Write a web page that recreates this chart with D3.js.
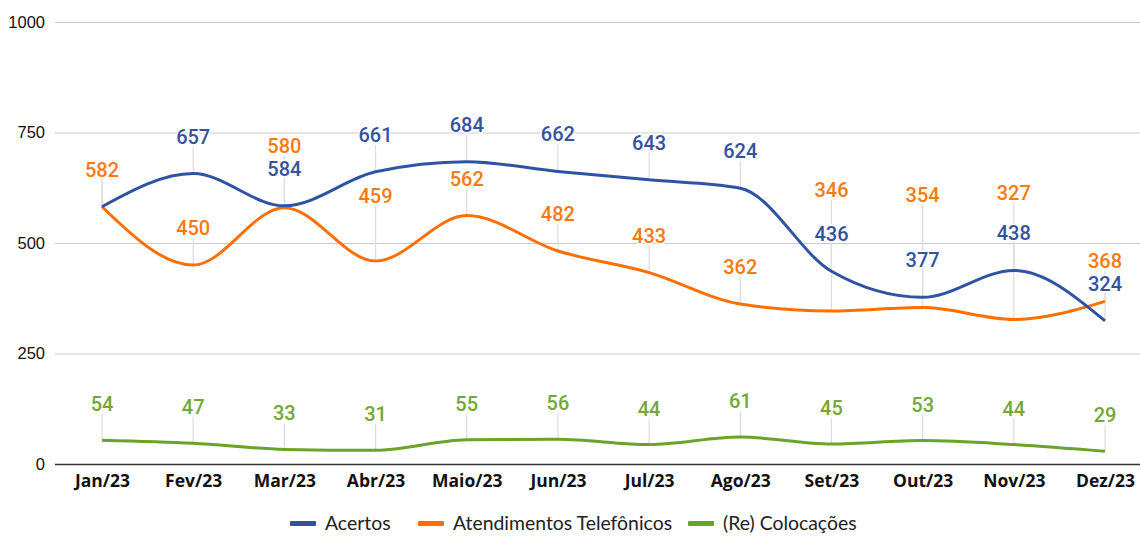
<!DOCTYPE html>
<html>
<head>
<meta charset="utf-8">
<script src="https://cdn.jsdelivr.net/npm/d3@7"></script>
<style>
  body { margin: 0; background: #fff; }
</style>
</head>
<body>
<div class="chart"></div>
<script>
const months = ['Jan/23', 'Fev/23', 'Mar/23', 'Abr/23', 'Maio/23', 'Jun/23', 'Jul/23', 'Ago/23', 'Set/23', 'Out/23', 'Nov/23', 'Dez/23'];
const acertos = [582, 657, 584, 661, 684, 662, 643, 624, 436, 377, 438, 324];
const atendimentos = [582, 450, 580, 459, 562, 482, 433, 362, 346, 354, 327, 368];
const colocacoes = [54, 47, 33, 31, 55, 56, 44, 61, 45, 53, 44, 29];
const yTicks = [0, 250, 500, 750, 1000];
const seriesNames = ['Acertos', 'Atendimentos Telefônicos', '(Re) Colocações'];

// extra lift of labels that were pushed up to avoid collisions (layout only)
const liftAtendimentos = [0, 0, 25, 28, 0, 0, 0, 0, 84, 76, 89, 3];

function lineChart() {
    const width = 1140, height = 536;
    const margin = {top: 22, right: 35, bottom: 72, left: 102};

    const svg = d3.select('.chart')
        .append('svg')
        .attr('width', width)
        .attr('height', height);

    const x = d3.scalePoint()
        .domain(months)
        .range([margin.left, width - margin.right]);

    const y = d3.scaleLinear()
        .domain([0, 1000])
        .range([height - margin.bottom, margin.top]);

    // grid + y labels
    const grid = svg.append('g')
        .attr('transform', 'translate(55, 0)')
        .call(d3.axisLeft(y).tickValues(yTicks).tickFormat(d3.format('d'))
            .tickSize(-(width - 55)).tickPadding(10));
    grid.select('.domain').remove();
    grid.selectAll('.tick line')
        .attr('stroke', d => d === 0 ? '#333' : '#c9c9c9')
        .attr('stroke-width', d => d === 0 ? 1.5 : 1.2);
    grid.selectAll('.tick text')
        .attr('fill', '#111')
        .style('font', '16.5px "Liberation Sans", Arial, sans-serif');

    // x labels
    const xAxis = svg.append('g')
        .attr('transform', `translate(0, ${height - margin.bottom})`)
        .call(d3.axisBottom(x).tickSize(0).tickPadding(11));
    xAxis.select('.domain').remove();
    xAxis.selectAll('.tick text')
        .attr('fill', '#111')
        .style('font', '700 17.5px "Open Sans", sans-serif');

    const series = [
        {name: seriesNames[0], values: acertos, color: '#2f53a3', labelColor: '#34539f', dy: 37, lift: null},
        {name: seriesNames[1], values: atendimentos, color: '#ff6f00', labelColor: '#fb7a10', dy: 37, lift: liftAtendimentos},
        {name: seriesNames[2], values: colocacoes, color: '#6ba32a', labelColor: '#72a83a', dy: 36, lift: null}
    ];

    const line = d3.line()
        .x((d, i) => x(months[i]))
        .y(d => y(d))
        .curve(d3.curveMonotoneX);

    // leader lines first so they sit beneath curves
    const leaders = svg.append('g');
    series.forEach(s => {
        leaders.selectAll(null)
            .data(s.values)
            .join('line')
            .attr('x1', (d, i) => x(months[i]))
            .attr('x2', (d, i) => x(months[i]))
            .attr('y1', d => y(d))
            .attr('y2', (d, i) => y(d) - s.dy - (s.lift ? s.lift[i] : 0) + 10)
            .attr('stroke', '#dcdcdc')
            .attr('stroke-width', 1.2);
    });

    series.slice().reverse().forEach(s => {
        svg.append('path')
            .datum(s.values)
            .attr('fill', 'none')
            .attr('stroke', s.color)
            .attr('stroke-width', 3)
            .attr('d', line);
    });

    // data labels
    series.forEach(s => {
        svg.append('g')
            .selectAll('text')
            .data(s.values)
            .join('text')
            .attr('x', (d, i) => x(months[i]))
            .attr('y', (d, i) => y(d) - s.dy - (s.lift ? s.lift[i] : 0))
            .attr('dy', '0.35em')
            .attr('text-anchor', 'middle')
            .attr('fill', s.labelColor)
            .style('font', '500 20px Roboto, sans-serif')
            .style('paint-order', 'stroke')
            .style('stroke', '#fff')
            .style('stroke-width', 3)
            .text(d => d);
    });

    // legend
    const legend = svg.append('g')
        .attr('transform', `translate(0, ${height - 6})`);
    const legendX = [290, 418, 688];
    series.forEach((s, i) => {
        const g = legend.append('g').attr('transform', `translate(${legendX[i]}, 0)`);
        g.append('rect')
            .attr('x', 0).attr('y', -9)
            .attr('width', 26).attr('height', 5)
            .attr('rx', 1)
            .attr('fill', s.color);
        g.append('text')
            .attr('x', 35).attr('y', 0)
            .attr('fill', '#222')
            .style('font', '19.4px Lato, sans-serif')
            .text(s.name);
    });
}

lineChart();
</script>
</body>
</html>
